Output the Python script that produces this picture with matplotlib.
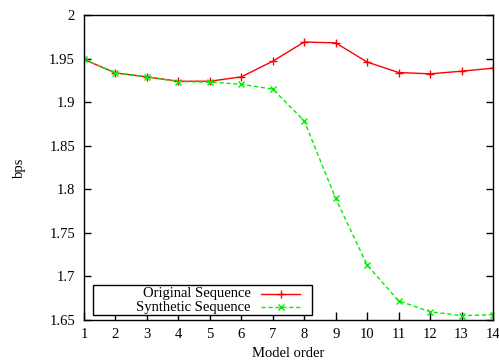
import matplotlib
matplotlib.use("Agg")
import matplotlib.pyplot as plt
from matplotlib.patches import Rectangle
from matplotlib.lines import Line2D

orders = list(range(1, 15))
original = [1.949, 1.9335, 1.929, 1.924, 1.924, 1.929, 1.947, 1.969, 1.968, 1.946, 1.934, 1.9325, 1.9355, 1.939]
synthetic = [1.949, 1.9335, 1.929, 1.9235, 1.923, 1.9205, 1.915, 1.8785, 1.7895, 1.713, 1.672, 1.6595, 1.655, 1.656]
yticks = [1.65, 1.7, 1.75, 1.8, 1.85, 1.9, 1.95, 2.0]
ytick_labels = ["1.65", "1.7", "1.75", "1.8", "1.85", "1.9", "1.95", "2"]
series_names = ["Original Sequence", "Synthetic Sequence"]

plt.rcParams['font.family'] = ['Liberation Serif', 'DejaVu Serif']
plt.rcParams['font.size'] = 10.5

W, H = 499, 362
L, R, T, B = 84, 493, 15, 320
fig = plt.figure(figsize=(W/100, H/100), dpi=100)
ax = fig.add_axes([L/W, 1 - B/H, (R-L)/W, (B-T)/H])

styles = [dict(color='#ff0000', lw=1, ls='-', marker='+', ms=6, mew=1),
          dict(color='#00ee00', lw=1, ls=(0, (3, 2)), marker='x', ms=4.5, mew=1)]
ax.plot(orders, original, **styles[0])
ax.plot(orders, synthetic, **styles[1])

ax.set_xlim(1, 14)
ax.set_ylim(1.65, 2.0)
ax.set_xticks(orders)
ax.set_yticks(yticks)
ax.set_yticklabels(ytick_labels)
ax.tick_params(axis='y', direction='in', length=5, width=1, right=True, pad=6.5)
ax.tick_params(axis='x', direction='in', length=6, width=1, top=False, pad=6)
for s in ax.spines.values():
    s.set_linewidth(1)

ax.set_xlabel('Model order', labelpad=4)
ax.set_ylabel('bps', labelpad=17)

# gnuplot-style key box
def px(x, y):
    return ((x - L) / (R - L), (B - y) / (B - T))

x0, y0 = px(93, 315)
x1, y1 = px(312, 285)
ax.add_patch(Rectangle((x0, y0), x1 - x0, y1 - y0, transform=ax.transAxes,
                       fill=True, facecolor='white', edgecolor='black', lw=1, zorder=5))
rows_y = [294, 307]
for name, st, ry in zip(series_names, styles, rows_y):
    tx, ty = px(251, ry)
    ax.text(tx, ty, name, transform=ax.transAxes, ha='right', va='center', zorder=6)
    lx0, ly = px(261, ry)
    lx1, _ = px(300, ry)
    ax.add_line(Line2D([lx0, lx1], [ly, ly], transform=ax.transAxes, zorder=6,
                       color=st['color'], lw=st['lw'], ls=st['ls']))
    ax.add_line(Line2D([(lx0 + lx1) / 2], [ly], transform=ax.transAxes, zorder=6,
                       color=st['color'], ls='none', marker=st['marker'], ms=st['ms'], mew=st['mew']))

fig.savefig('out.png', dpi=100)
